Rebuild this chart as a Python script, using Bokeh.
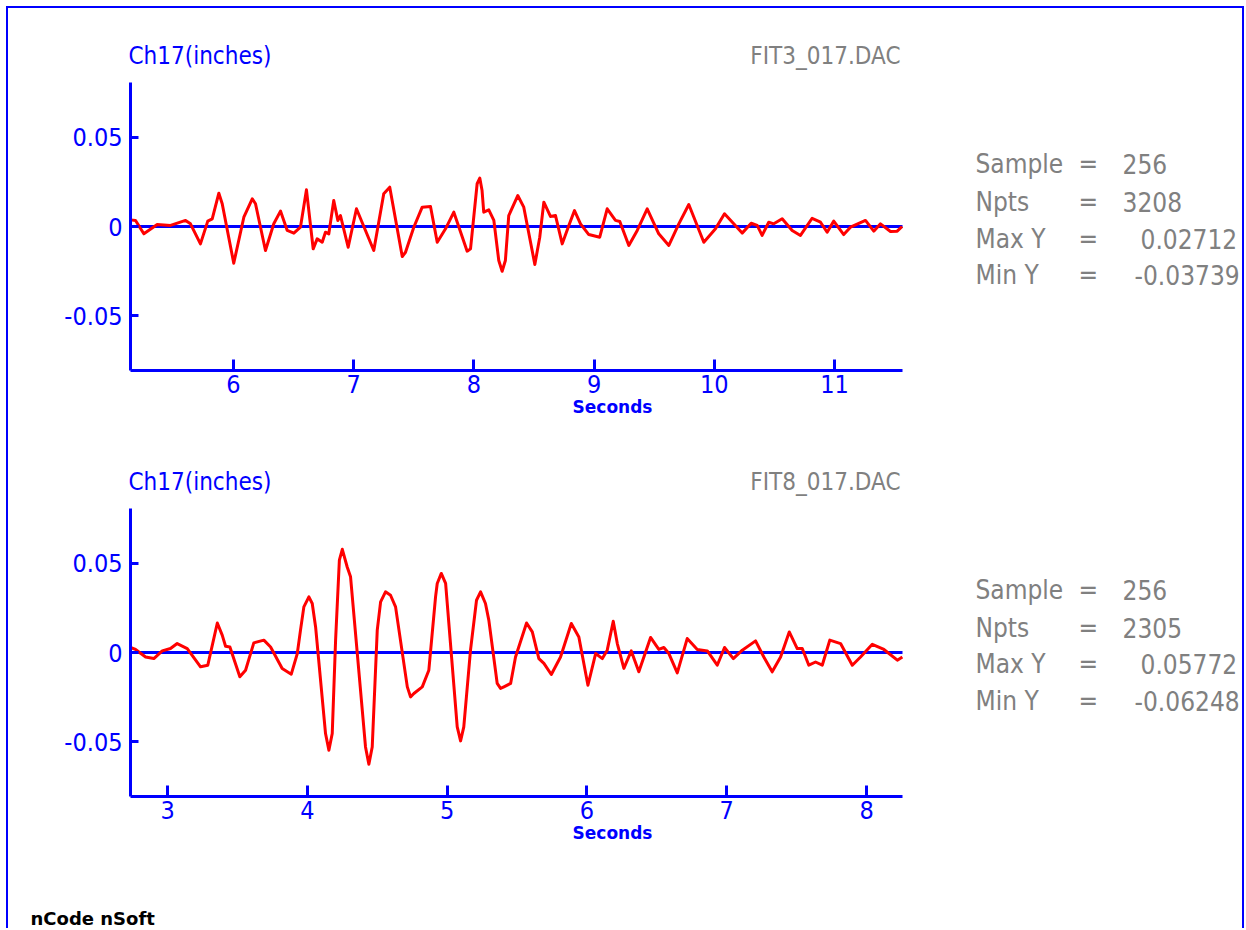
from bokeh.plotting import figure
from bokeh.models import Range1d, FixedTicker, Label, LinearAxis
from bokeh.layouts import column
from bokeh.embed import file_html
from bokeh.resources import INLINE

# ---------------- data ----------------
top_t = [5.143, 5.185, 5.254, 5.365, 5.476, 5.601, 5.642, 5.725, 5.786, 5.823,
         5.878, 5.906, 6.002, 6.086, 6.156, 6.183, 6.266, 6.335, 6.391, 6.447,
         6.502, 6.557, 6.607, 6.663, 6.696, 6.738, 6.765, 6.793, 6.834, 6.868,
         6.890, 6.954, 7.023, 7.167, 7.250, 7.300, 7.404, 7.431, 7.500, 7.570,
         7.639, 7.695, 7.764, 7.833, 7.944, 7.972, 8.027, 8.049, 8.068, 8.082,
         8.124, 8.166, 8.207, 8.235, 8.262, 8.290, 8.365, 8.415, 8.507, 8.548,
         8.582, 8.637, 8.679, 8.735,
         8.790, 8.837, 8.887, 8.956, 9.047, 9.109, 9.178, 9.214, 9.289, 9.359,
         9.442, 9.538, 9.622, 9.705, 9.788, 9.913, 10.010, 10.085, 10.162, 10.232,
         10.307, 10.357, 10.398, 10.453, 10.495, 10.565, 10.648, 10.717, 10.814, 10.884,
         10.939, 10.994, 11.077, 11.133, 11.258, 11.327, 11.383, 11.466, 11.522, 11.563]
top_v = [0.0037, 0.0034, -0.0041, 0.0011, 0.0006, 0.0034, 0.0015, -0.0097, 0.0030, 0.0043,
         0.0186, 0.0127, -0.0205, 0.0052, 0.0155, 0.0127, -0.0134, 0.0015, 0.0086, -0.0022,
         -0.0037, -0.0004, 0.0205, -0.0125, -0.0069, -0.0088, -0.0032, -0.0041, 0.0145, 0.0034,
         0.0061, -0.0116, 0.0099, -0.0134, 0.0183, 0.0220, -0.0168, -0.0144, -0.0004, 0.0108,
         0.0112, -0.0088, -0.0013, 0.0080, -0.0138, -0.0125, 0.0239, 0.0271, 0.0201, 0.0080,
         0.0093, 0.0034, -0.0190, -0.0250, -0.0190, 0.0061, 0.0173, 0.0108, -0.0212, -0.0060,
         0.0136, 0.0056, 0.0061, -0.0097,
         0.0006, 0.0089, 0.0015, -0.0045, -0.0060, 0.0099, 0.0034, 0.0028, -0.0106, -0.0022,
         0.0099, -0.0041, -0.0106, 0.0015, 0.0123, -0.0088, -0.0013, 0.0071, 0.0015, -0.0037,
         0.0018, 0.0006, -0.0050, 0.0024, 0.0015, 0.0043, -0.0022, -0.0050, 0.0046, 0.0024,
         -0.0032, 0.0030, -0.0045, -0.0004, 0.0034, -0.0026, 0.0015, -0.0028, -0.0026, 0.0000]

bot_t = [2.735, 2.771, 2.843, 2.902, 2.962, 3.021, 3.069, 3.141, 3.236, 3.288,
         3.356, 3.391, 3.415, 3.446, 3.517, 3.558, 3.617, 3.689, 3.737, 3.820,
         3.885, 3.928, 3.951, 3.975, 4.011, 4.035, 4.059, 4.130, 4.154, 4.178,
         4.202, 4.229, 4.250, 4.285, 4.309, 4.416, 4.440, 4.464, 4.500, 4.524,
         4.559, 4.595, 4.631, 4.715, 4.738, 4.762, 4.822, 4.869, 4.917, 4.929,
         4.958, 4.989, 5.072, 5.096, 5.119, 5.167, 5.210, 5.239, 5.274, 5.298,
         5.358, 5.382, 5.406, 5.454, 5.489, 5.568, 5.609, 5.656, 5.692,
         5.745, 5.811, 5.888, 5.942, 6.007, 6.062, 6.110, 6.145, 6.188, 6.217,
         6.264, 6.317, 6.371, 6.455, 6.514, 6.550, 6.586, 6.646, 6.717, 6.789,
         6.861, 6.932, 6.984, 7.047, 7.111, 7.206, 7.265, 7.325, 7.385, 7.447,
         7.504, 7.540, 7.587, 7.635, 7.683, 7.737, 7.814, 7.898, 7.957, 8.041,
         8.124, 8.220, 8.256]
bot_v = [0.0028, 0.0017, -0.0025, -0.0034, 0.0009, 0.0022, 0.0050, 0.0022, -0.0080, -0.0071,
         0.0165, 0.0097, 0.0035, 0.0031, -0.0136, -0.0099, 0.0054, 0.0069, 0.0031, -0.0089,
         -0.0121, -0.0006, 0.0125, 0.0255, 0.0311, 0.0274, 0.0143, -0.0453, -0.0546, -0.0453,
         0.0069, 0.0516, 0.0577, 0.0478, 0.0423, -0.0528, -0.0625, -0.0528, 0.0125, 0.0283,
         0.0339, 0.0320, 0.0255, -0.0192, -0.0248, -0.0229, -0.0192, -0.0099, 0.0311, 0.0386,
         0.0442, 0.0386, -0.0416, -0.0494, -0.0416, 0.0013, 0.0292, 0.0339, 0.0274, 0.0181,
         -0.0173, -0.0201, -0.0192, -0.0173, -0.0025, 0.0165, 0.0115, -0.0034, -0.0061,
         -0.0123, -0.0025, 0.0162, 0.0087, -0.0183, -0.0006, -0.0034, 0.0013, 0.0175, 0.0050,
         -0.0089, 0.0009, -0.0108, 0.0084, 0.0017, 0.0028, -0.0006, -0.0114, 0.0078, 0.0017,
         0.0009, -0.0071, 0.0028, -0.0034, 0.0013, 0.0065, -0.0025, -0.0108, -0.0025, 0.0115,
         0.0022, 0.0022, -0.0071, -0.0053, -0.0071, 0.0069, 0.0050, -0.0071, -0.0025, 0.0046,
         0.0017, -0.0043, -0.0025]

top_xlim = (5.143, 11.566)
bot_xlim = (2.735, 8.257)
ylim = (-0.0805, 0.0805)
top_xticks = [6, 7, 8, 9, 10, 11]
bot_xticks = [3, 4, 5, 6, 7, 8]
y_ticks = [-0.05, 0, 0.05]
y_tick_labels = ["-0.05", "0", "0.05"]

channel_label = "Ch17(inches)"
top_file = "FIT3_017.DAC"
bot_file = "FIT8_017.DAC"
stat_names = ["Sample", "Npts", "Max Y", "Min Y"]
top_stats = ["256", "3208", "0.02712", "-0.03739"]
bot_stats = ["256", "2305", "0.05772", "-0.06248"]
x_label = "Seconds"
footer = "nCode nSoft"

# ---------------- style / layout ----------------
BLUE = "#0000ff"
RED = "#ff0000"
GRAY = "#808080"
FONT = "DejaVu Sans Condensed"
BOLD = "DejaVu Sans"
VAL_OFFS = [0, 0, 18, 12]
FIG_W = 1234
FRAME_L, FRAME_W, FRAME_H = 122, 772, 288   # plotting box in canvas px


def make_panel(t, v, xlim, xticks, fname, stats, height, frame_top,
               title_y, row_y, xlabel_y, footer_text=None):
    # map the plotting box onto canvas pixels, canvas covers whole figure
    xs = (xlim[1] - xlim[0]) / FRAME_W
    ys = (ylim[1] - ylim[0]) / FRAME_H
    x_range = Range1d(xlim[0] - FRAME_L * xs, xlim[1] + (FIG_W - FRAME_L - FRAME_W) * xs)
    y_range = Range1d(ylim[0] - (height - frame_top - FRAME_H) * ys, ylim[1] + frame_top * ys)

    p = figure(width=FIG_W, height=height, x_range=x_range, y_range=y_range,
               x_axis_location=None, y_axis_location=None,
               output_backend="svg", toolbar_location=None,
               min_border_left=0, min_border_right=0, min_border_top=0, min_border_bottom=0)
    p.xgrid.visible = False
    p.ygrid.visible = False
    p.outline_line_color = None
    p.background_fill_color = "white"
    p.border_fill_color = "white"

    xaxis = LinearAxis(fixed_location=ylim[0], bounds=xlim, ticker=FixedTicker(ticks=xticks))
    yaxis = LinearAxis(fixed_location=xlim[0], bounds=ylim, ticker=FixedTicker(ticks=y_ticks))
    yaxis.major_label_overrides = {k: s for k, s in zip(y_ticks, y_tick_labels)}
    for ax in (xaxis, yaxis):
        ax.axis_line_color = BLUE
        ax.axis_line_width = 3
        ax.major_tick_line_color = BLUE
        ax.major_tick_line_width = 3
        ax.major_tick_out = 0
        ax.minor_tick_line_color = None
        ax.major_label_text_color = BLUE
        ax.major_label_text_font = FONT
        ax.major_label_text_font_size = "25px"
    xaxis.major_tick_in = 11
    yaxis.major_tick_in = 8
    yaxis.major_label_standoff = 8
    xaxis.major_label_standoff = 4
    p.add_layout(xaxis, "below")
    p.add_layout(yaxis, "left")

    # zero reference line across the plotting box
    p.line(list(xlim), [0, 0], line_color=BLUE, line_width=3)
    p.line(t, v, line_color=RED, line_width=3, line_join="round")

    def lab(x, y, text, color, font, size, align="left", style="normal", xo=0):
        p.add_layout(Label(x=x, y=y, x_units="canvas", y_units="canvas", x_offset=xo, text=text,
                           text_color=color, text_font=font, text_font_size=size,
                           text_font_style=style, text_baseline="middle", text_align=align))

    lab(FRAME_L - 2, title_y, channel_label, BLUE, FONT, "24px")
    lab(FRAME_L + FRAME_W - 2, title_y, fname, GRAY, FONT, "24px", align="right")
    for i, (nm, sv) in enumerate(zip(stat_names, stats)):
        lab(967, row_y[i], nm, GRAY, FONT, "26px")
        lab(1070, row_y[i], "=", GRAY, FONT, "26px")
        lab(1114, row_y[i], sv, GRAY, FONT, "26px", xo=VAL_OFFS[i])
    lab(604, xlabel_y, x_label, BLUE, BOLD, "17px", align="center", style="bold")
    if footer_text:
        lab(22, 478, footer_text, "black", BOLD, "18px", style="bold")
    return p


p1 = make_panel(top_t, top_v, top_xlim, top_xticks, top_file, top_stats, 432, 74,
                47, [155, 193, 230, 266], 398)
p2 = make_panel(bot_t, bot_v, bot_xlim, bot_xticks, bot_file, bot_stats, 488, 68,
                41, [149, 187, 223, 260], 392, footer)

layout = column(p1, p2, styles={"margin-top": "6px", "margin-left": "6px",
                                "border-top": "2px solid #0000ff",
                                "border-left": "2px solid #0000ff",
                                "border-right": "2px solid #0000ff"})

open("out.html", "w").write(file_html(layout, INLINE))
